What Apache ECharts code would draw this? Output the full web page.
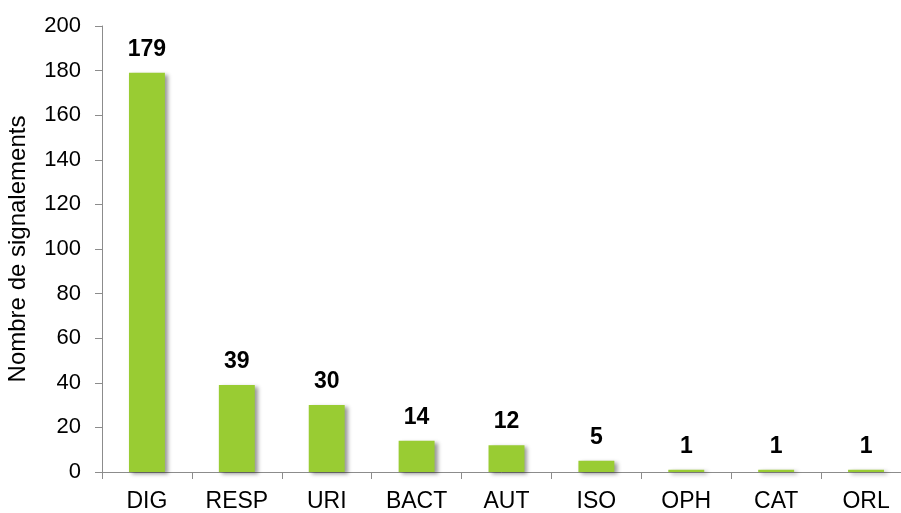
<!DOCTYPE html>
<html>
<head>
<meta charset="utf-8">
<script src="https://cdn.jsdelivr.net/npm/echarts@6/dist/echarts.min.js"></script>
<style>
  html, body { margin: 0; padding: 0; background: #fff; }
  #chart { width: 901px; height: 513px; }
</style>
</head>
<body>
<div id="chart"></div>
<script>
const categories = ['DIG', 'RESP', 'URI', 'BACT', 'AUT', 'ISO', 'OPH', 'CAT', 'ORL']
const counts = [179, 39, 30, 14, 12, 5, 1, 1, 1]
const yTicks = { min: 0, max: 200, interval: 20 }

const chart = echarts.init(document.getElementById('chart'))

const option = {
  animation: false,
  textStyle: { fontFamily: 'Liberation Sans, Arial, sans-serif' },
  grid: {
    left: 102, right: -10, top: 26, bottom: 41,
    containLabel: false,
    outerBoundsMode: 'none',
  },
  xAxis: {
    type: 'category',
    data: categories,
    axisLine: { lineStyle: { color: '#8c8c8c', width: 1 } },
    axisTick: { show: true, length: 7, lineStyle: { color: '#8c8c8c' } },
    axisLabel: { color: '#000', fontSize: 23, margin: 18 },
  },
  yAxis: {
    type: 'value',
    min: yTicks.min,
    max: yTicks.max,
    interval: yTicks.interval,
    name: 'Nombre de signalements',
    nameLocation: 'middle',
    nameGap: 72,
    nameTextStyle: { color: '#000', fontSize: 24 },
    axisLine: { show: true, lineStyle: { color: '#8c8c8c', width: 1 } },
    axisTick: { show: true, length: 7, lineStyle: { color: '#8c8c8c' } },
    axisLabel: { color: '#000', fontSize: 22, margin: 21 },
    splitLine: { show: false },
  },
  series: [
    {
      type: 'bar',
      data: counts,
      barWidth: '40%',
      itemStyle: {
        color: '#99cc33',
        shadowColor: 'rgba(0, 0, 0, 0.4)',
        shadowBlur: 4,
        shadowOffsetX: 3,
        shadowOffsetY: 2,
      },
      label: {
        show: true,
        position: 'top',
        distance: 12,
        color: '#000',
        fontSize: 23,
        fontWeight: 'bold',
      },
    },
  ],
}

chart.setOption(option)
</script>
</body>
</html>
